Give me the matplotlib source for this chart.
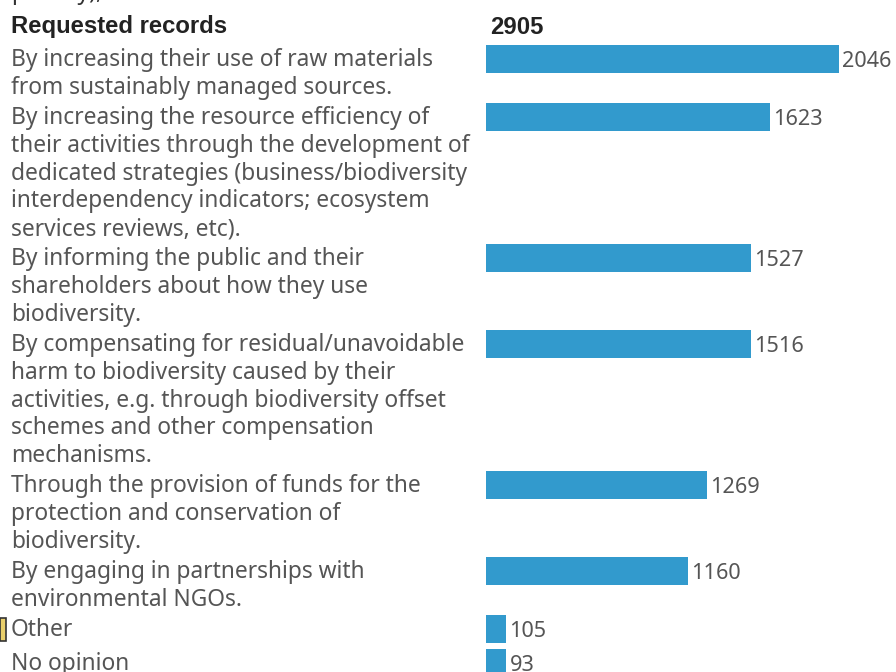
import matplotlib
matplotlib.use("Agg")
import matplotlib.pyplot as plt
from matplotlib.patches import Rectangle

W, H = 896, 672
header = "Requested records"
total = "2905"
clipped_top = "priority),"
categories = [
    "By increasing their use of raw materials\nfrom sustainably managed sources.",
    "By increasing the resource efficiency of\ntheir activities through the development of\ndedicated strategies (business/biodiversity\ninterdependency indicators; ecosystem\nservices reviews, etc).",
    "By informing the public and their\nshareholders about how they use\nbiodiversity.",
    "By compensating for residual/unavoidable\nharm to biodiversity caused by their\nactivities, e.g. through biodiversity offset\nschemes and other compensation\nmechanisms.",
    "Through the provision of funds for the\nprotection and conservation of\nbiodiversity.",
    "By engaging in partnerships with\nenvironmental NGOs.",
    "Other",
    "No opinion",
]
counts = [2046, 1623, 1527, 1516, 1269, 1160, 105, 93]
shares = [70, 56.3, 52.6, 52.6, 43.8, 40, 4, 4]

row_tops = [45, 103, 244, 330, 471, 557, 615, 649]
BAR_H = 28
TEXT = "#555555"
BLUE = "#329ACD"
FONT = "Noto Sans"

fig = plt.figure(figsize=(W / 100, H / 100), dpi=100, facecolor="white")
ax = fig.add_axes([486 / W, 0, (W - 486) / W, 1])
ax.set_xlim(0, (W - 486) / 5.04)
ax.set_ylim(H, 0)
ax.axis("off")

centers = [t + BAR_H / 2 for t in row_tops]
ax.barh(centers, shares, height=BAR_H, color=BLUE, linewidth=0)

fs = 16.4
fs_num = 15.6
px = lambda x, y: (x / W, 1 - y / H)
for c, n, s, t, y in zip(categories, counts, shares, row_tops, centers):
    ax.text(s + 3.4 / 5.04, y, str(n), va="center_baseline", ha="left", fontsize=fs_num,
            color=TEXT, family=FONT)
    for i, line in enumerate(c.split("\n")):
        fig.text(*px(11, t + 12 + i * 27.8), line, va="center_baseline", ha="left",
                 fontsize=fs, color=TEXT, family=FONT)

fig.text(*px(11, -1), clipped_top, va="baseline", ha="left", fontsize=fs, color="#333333", family=FONT)
fig.text(*px(11, 26), header, va="center", ha="left", fontsize=17.2, fontweight="bold",
         color="#222222", family="Liberation Sans")
fig.text(*px(490, 27), total, va="center", ha="left", fontsize=17.2, fontweight="bold",
         color="#222222", family="Liberation Sans")

fig.add_artist(Rectangle((0, 1 - 641 / H), 6 / W, 23 / H, transform=fig.transFigure,
                         facecolor="#E9CF6B", edgecolor="#333333", linewidth=1.2))

fig.savefig("out.png", dpi=100)
